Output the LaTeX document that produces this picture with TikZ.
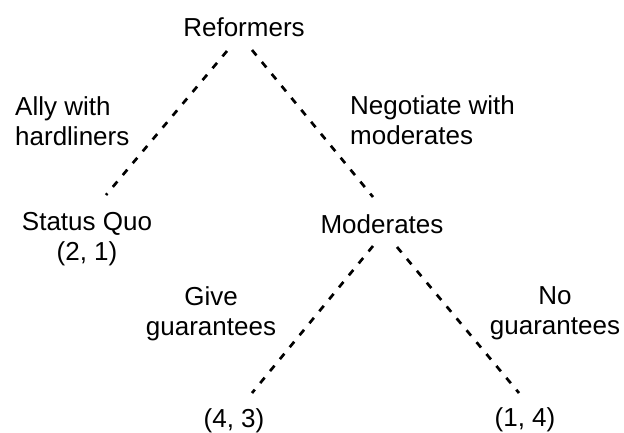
\documentclass[tikz,border=0pt]{standalone}
\usepackage{fontspec}
\setmainfont{Liberation Sans}
\usepackage{tikz}
\usetikzlibrary{positioning, calc}

\begin{document}
\begin{tikzpicture}[x=1pt, y=-1pt,
    player/.style={font=\fontsize{26}{30}\selectfont, inner sep=0pt},
    move/.style={font=\fontsize{26}{30}\selectfont, inner sep=0pt},
    branch/.style={line width=2.7pt, dash pattern=on 7pt off 8.5pt}]
  % Page frame
  \useasboundingbox (0,0) rectangle (624,432);

  % Decision nodes
  \node[player, anchor=base] (ref) at (244,36) {Reformers};
  \node[player, anchor=base] (mod) at (382,233) {Moderates};

  % Outcomes with payoffs
  \node[player, anchor=north, align=center] (sq) at (87,212) {Status Quo\\(2, 1)};
  \node[player, anchor=north] (p43) at (234,408) {(4, 3)};
  \node[player, anchor=north] (p14) at (525,407) {(1, 4)};

  % Move labels
  \node[move, anchor=north west, align=left] (ally) at (15,96) {Ally with\\hardliners};
  \node[move, anchor=north west, align=left] (nego) at (350,95) {Negotiate with\\moderates};
  \node[move, anchor=north, align=center] (give) at (211,286) {Give\\guarantees};
  \node[move, anchor=north, align=center] (nogu) at (555,286) {No\\guarantees};

  % Branches
  \draw[branch] ([shift={(-17,15)}]ref.base) -- ([shift={(19,-17)}]sq.north);
  \draw[branch] ([shift={(8,14)}]ref.base) -- ([shift={(-9,-36)}]mod.base);
  \draw[branch] ([shift={(-9,13)}]mod.base) -- ([shift={(18,-15)}]p43.north);
  \draw[branch] ([shift={(15,14)}]mod.base) -- ([shift={(-6,-14)}]p14.north);
\end{tikzpicture}
\end{document}
